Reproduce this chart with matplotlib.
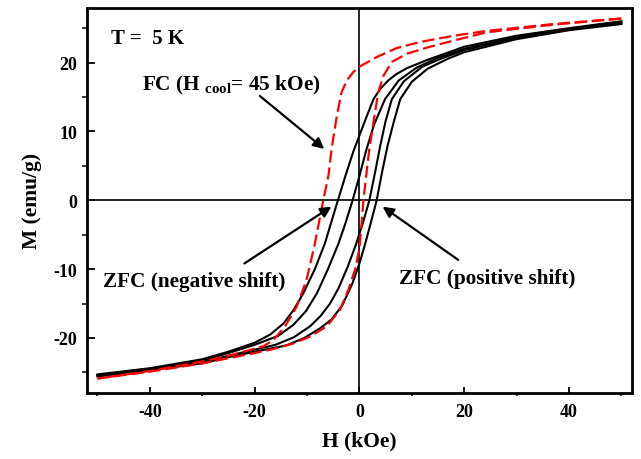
import matplotlib
matplotlib.use('Agg')
import matplotlib.pyplot as plt

plt.rcParams['font.family'] = ['Liberation Serif', 'DejaVu Serif']
plt.rcParams['font.weight'] = 'bold'
plt.rcParams['axes.unicode_minus'] = False
plt.rcParams['mathtext.fontset'] = 'custom'
plt.rcParams['mathtext.rm'] = 'Liberation Serif:bold'
plt.rcParams['mathtext.bf'] = 'Liberation Serif:bold'

# ZFC loop with negative shift: descending (b1) and ascending (b3) branches
b1_h = [-50, -40, -30, -25, -20, -17, -14.5, -12.6, -10.7, -8.5, -6.6, -5.3, -4.1,
        -2.6, -1.2, 0, 1.3, 2.7, 4.0, 5.5, 7.0, 9.1, 13, 20, 30, 40, 50]
b1_m = [-25.3, -24.4, -23.1, -22.0, -20.7, -19.5, -17.9, -16.0, -13.5, -10.0, -6.3, -3.0, 0,
        3.7, 7.0, 9.4, 12.0, 14.7, 16.2, 17.4, 18.3, 19.2, 20.4, 22.3, 23.9, 25.0, 26.0]
b3_h = [-50, -40, -30, -25, -20, -16, -12.5, -9.4, -7.4, -5.6, -4.0, -2.2, -0.6, 0.7,
        1.9, 2.9, 4.0, 5.0, 6.2, 8.5, 12, 16, 20, 30, 40, 50]
b3_m = [-25.5, -24.6, -23.5, -22.6, -21.7, -21.0, -19.9, -18.3, -16.8, -15.0, -12.8, -9.6, -6.3, -3.2,
        0, 3.7, 8.0, 11.5, 14.7, 17.3, 19.4, 20.7, 21.8, 23.6, 24.8, 25.7]

# ZFC loop with positive shift: descending (b2) and ascending (b4) branches
b2_h = [-50, -40, -30, -25, -20, -15.5, -12.6, -10.2, -8.1, -6.0, -4.0, -2.6, -1.3,
        0, 1.2, 2.8, 4.9, 7.5, 11, 15, 20, 30, 40, 50]
b2_m = [-25.4, -24.5, -23.3, -22.2, -21.0, -19.7, -18.1, -16.1, -13.5, -10.0, -6.3, -3.2, 0,
        3.5, 7.0, 11.0, 14.7, 17.4, 19.3, 20.7, 22.0, 23.7, 24.9, 25.9]
b4_h = [-50, -40, -30, -25, -20, -14, -10.5, -7.5, -5.3, -3.3, -1.4, 0, 1.0, 2.1,
        3.3, 4.3, 5.4, 6.6, 7.8, 10, 13, 17, 20, 30, 40, 50]
b4_m = [-25.6, -24.7, -23.7, -22.8, -22.0, -21.1, -20.0, -18.6, -17.3, -15.3, -12.2, -9.2, -6.6, -3.5,
        0, 4.0, 8.0, 11.5, 14.7, 17.2, 19.1, 20.6, 21.5, 23.4, 24.7, 25.6]

# FC loop (H_cool = 45 kOe)
fc_dn_h = [50, 37, 24.3, 18, 11.6, 7.1, 3.3, 0, -1.2, -2.4, -3.4, -4.3, -5.3, -5.9, -6.9,
           -8.5, -10.1, -12, -14.2, -16.4, -18.3, -25, -30.5, -40, -50]
fc_dn_m = [26.4, 25.6, 24.6, 23.9, 23.0, 22.1, 20.8, 19.4, 18.6, 17.4, 15.7, 12.3, 7.5, 3.6, 0,
           -6.3, -11.6, -15.5, -18.3, -20.3, -21.2, -22.6, -23.5, -24.8, -25.9]
fc_up_h = [-50, -40, -30, -20, -16.4, -12.6, -9.4, -6.2, -3.7, -2.1, -0.8, 0, 0.4, 0.77,
           1.3, 1.9, 2.7, 3.6, 4.6, 6.2, 9.1, 13, 18, 24.3, 37, 50]
fc_up_m = [-25.9, -24.9, -23.7, -22.2, -21.6, -20.8, -19.8, -18.3, -15.9, -13.0, -10.0, -7.0, -3.5, 0,
           3.6, 7.5, 11.4, 15.7, 18.1, 20.1, 21.3, 22.2, 23.2, 24.4, 25.5, 26.4]

fig = plt.figure(figsize=(6.41, 4.60), dpi=100)
ax = fig.add_axes([0.1357, 0.1435, 0.85, 0.838])

ax.axhline(0, color='k', lw=1.2, zorder=1)
ax.axvline(0, color='k', lw=1.2, zorder=1)

for h, m in [(b1_h, b1_m), (b2_h, b2_m), (b3_h, b3_m), (b4_h, b4_m)]:
    ax.plot(h, m, color='k', lw=1.5, zorder=2)

ax.plot(fc_dn_h, fc_dn_m, color='red', lw=1.6, ls=(0, (5.5, 2.2)), zorder=3)
ax.plot(fc_up_h, fc_up_m, color='red', lw=1.6, ls=(0, (5.5, 2.2)), zorder=3)

ax.set_xlim(-52, 52)
ax.set_ylim(-28, 28)
ax.set_xticks([-40, -20, 0, 20, 40])
ax.set_xticks([-50, -30, -10, 10, 30, 50], minor=True)
ax.set_yticks([-20, -10, 0, 10, 20])
ax.set_yticks([-25, -15, -5, 5, 15, 25], minor=True)
ax.tick_params(direction='in', labelsize=13, width=1.3, top=False, right=False)
ax.tick_params(axis='y', which='major', length=6, pad=7)
ax.tick_params(axis='y', which='minor', length=3.5, width=1.1)
ax.tick_params(axis='x', which='major', length=4, pad=7)
ax.tick_params(axis='x', which='minor', length=2.5, width=1.1)
for s in ax.spines.values():
    s.set_linewidth(2)

ax.set_xlabel('H (kOe)', fontsize=15.5, fontweight='bold', labelpad=8)
ax.set_ylabel('M (emu/g)', fontsize=15.5, fontweight='bold', labelpad=8)

ax.text(-47.5, 23.5, 'T =  5 K', fontsize=15, fontweight='bold', va='center')
ax.text(-41.5, 16.8, r'FC (H$_{\mathbf{\ cool}}$= 45 kOe)', fontsize=15.3, fontweight='bold', va='center')
ax.text(-49, -11.8, 'ZFC (negative shift)', fontsize=15.3, fontweight='bold', va='center')
ax.text(7.5, -11.3, 'ZFC (positive shift)', fontsize=15.3, fontweight='bold', va='center')

arrow = dict(arrowstyle='-|>', color='k', lw=1.6, mutation_scale=16)
ax.annotate('', xy=(-6.3, 7.2), xytext=(-19.4, 15.4), arrowprops=arrow)
ax.annotate('', xy=(-4.9, -0.7), xytext=(-22.4, -9.4), arrowprops=arrow)
ax.annotate('', xy=(4.0, -0.7), xytext=(19.3, -8.9), arrowprops=arrow)

fig.savefig('out.png', dpi=100)
